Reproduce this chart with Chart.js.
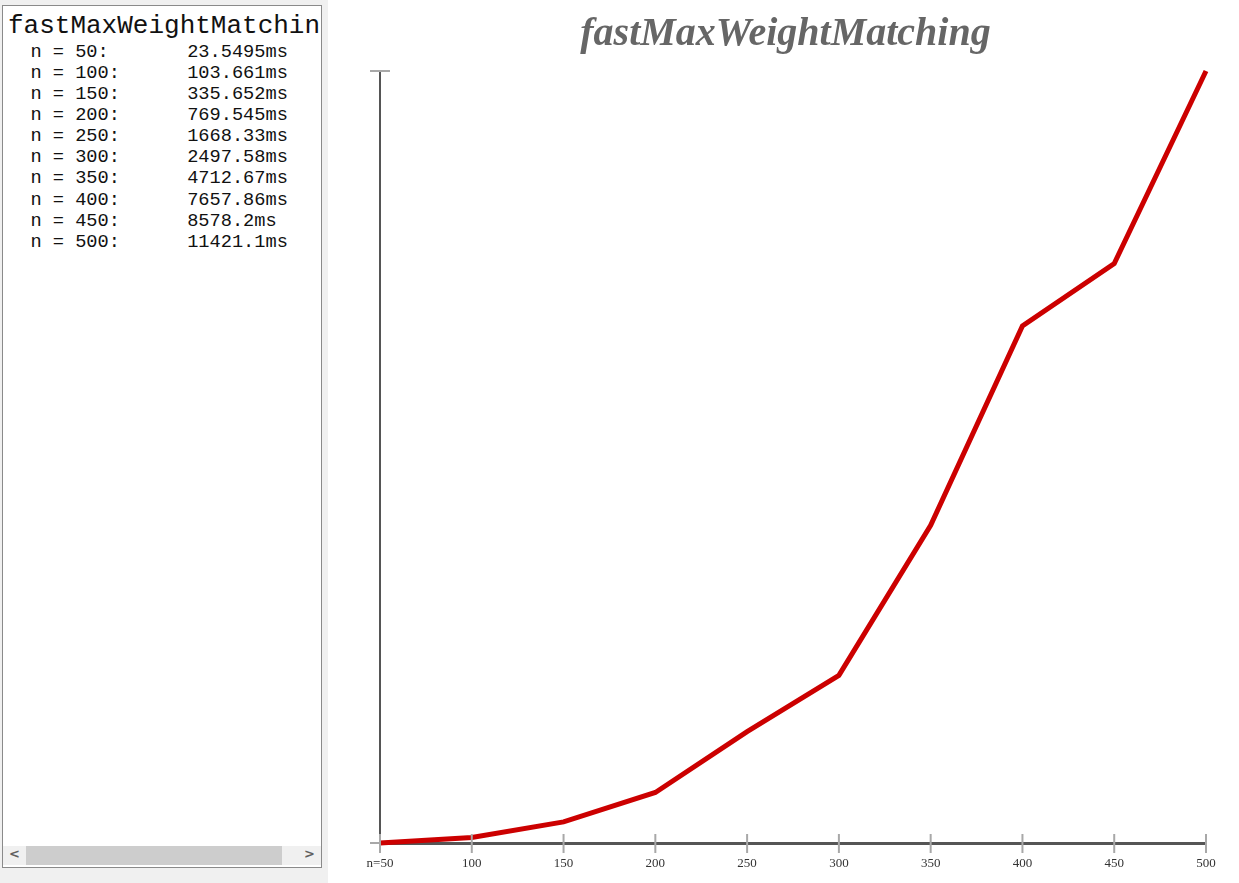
<!DOCTYPE html>
<html>
<head>
<meta charset="utf-8">
<script src="https://cdn.jsdelivr.net/npm/chart.js@4/dist/chart.umd.min.js"></script>
<style>
    html, body { margin: 0; padding: 0; background: #fff; width: 1239px; height: 883px; overflow: hidden; }
    #side { position: absolute; left: 0; top: 0; width: 328px; height: 883px; background: #f0f0f0; }
    #box { position: absolute; left: 2px; top: 5px; width: 318px; height: 861px; border: 1px solid #8a8a8a; background: #fff; overflow: hidden; }
    #log { position: absolute; left: 0; top: 0; right: 0; bottom: 21px; padding: 6px 0 0 5px; overflow: hidden;
           white-space: pre; tab-size: 8; font-family: "Liberation Mono", "Courier New", monospace; color: #111; }
    #log .head { font-size: 26px; line-height: 29.5px; }
    #log .row { font-size: 18.67px; line-height: 21.15px; }
    #hbar { position: absolute; left: 0; right: 0; bottom: 2px; height: 19px; background: #f0f0f0; }
    #thumb { position: absolute; left: 23px; width: 256px; top: 0; height: 19px; background: #cdcdcd; }
    .arrow { position: absolute; top: 0; height: 19px; line-height: 19px; font: bold 13px "DejaVu Sans", sans-serif; color: #606060; }
    #chartWrap { position: absolute; left: 330px; top: 0; width: 909px; height: 883px; }
</style>
</head>
<body>
<div id="side">
    <div id="box">
        <div id="log"></div>
        <div id="hbar">
            <div class="arrow" style="left:6px">&lt;</div>
            <div id="thumb"></div>
            <div class="arrow" style="right:6px">&gt;</div>
        </div>
    </div>
</div>
<div id="chartWrap"><canvas id="timeChart" width="909" height="883"></canvas></div>

<script>
const chartTitle = "fastMaxWeightMatching";
const sizes = [50, 100, 150, 200, 250, 300, 350, 400, 450, 500];
const timesMs = [23.5495, 103.661, 335.652, 769.545, 1668.33, 2497.58, 4712.67, 7657.86, 8578.2, 11421.1];

function fillLog() {
    const log = document.getElementById("log");
    let html = `<div class="head">${chartTitle}</div>`;
    sizes.forEach((n, i) => {
        html += `<div class="row">  n = ${n}:\t${timesMs[i]}ms</div>`;
    });
    log.innerHTML = html;
}

// ticks that cross the axis line, like the original plot
const crossTicks = {
    id: "crossTicks",
    afterDraw(chart) {
        const { ctx, scales: { x, y } } = chart;
        ctx.save();
        ctx.strokeStyle = "#a8a8a8";
        ctx.lineWidth = 2;
        x.ticks.forEach((t, i) => {
            const px = x.getPixelForTick(i);
            ctx.beginPath();
            ctx.moveTo(px, y.bottom - 9);
            ctx.lineTo(px, y.bottom + 10);
            ctx.stroke();
        });
        [y.top, y.bottom].forEach(py => {
            ctx.beginPath();
            ctx.moveTo(x.left - 10, py);
            ctx.lineTo(py === y.top ? x.left + 10 : x.left, py);
            ctx.stroke();
        });
        ctx.restore();
    }
};

function renderChart() {
    const ctx = document.getElementById("timeChart").getContext("2d");
    return new Chart(ctx, {
        type: "line",
        data: {
            datasets: [{
                label: chartTitle,
                data: sizes.map((n, i) => ({ x: n, y: timesMs[i] })),
                borderColor: "#cc0000",
                borderWidth: 5,
                pointRadius: 0,
                tension: 0,
                fill: false,
                clip: false
            }]
        },
        options: {
            responsive: false,
            animation: false,
            layout: { padding: { top: 0, right: 33, bottom: 0, left: 35 } },
            plugins: {
                legend: { display: false },
                tooltip: { enabled: false },
                title: {
                    display: true,
                    text: chartTitle,
                    color: "#666",
                    font: { family: "'Liberation Serif', 'Times New Roman', serif", size: 40, style: "italic", weight: "bold" },
                    padding: { top: 11, bottom: 12 }
                }
            },
            scales: {
                x: {
                    type: "linear",
                    min: sizes[0],
                    max: sizes[sizes.length - 1],
                    afterFit: s => { s.height = 40; },
                    ticks: {
                        stepSize: 50,
                        padding: 13,
                        color: "#333",
                        font: { family: "'Liberation Serif', 'Times New Roman', serif", size: 13 },
                        callback: v => v === sizes[0] ? "n=" + v : v
                    },
                    grid: { display: false, drawTicks: false },
                    border: { display: true, color: "#555", width: 3 }
                },
                y: {
                    min: timesMs[0],
                    max: timesMs[timesMs.length - 1],
                    afterFit: s => { s.width = 15; },
                    ticks: { display: false },
                    grid: { display: false, drawTicks: false },
                    border: { display: true, color: "#555", width: 2 }
                }
            }
        },
        plugins: [crossTicks]
    });
}

window.addEventListener("load", () => {
    fillLog();
    renderChart();
});
</script>
</body>
</html>
